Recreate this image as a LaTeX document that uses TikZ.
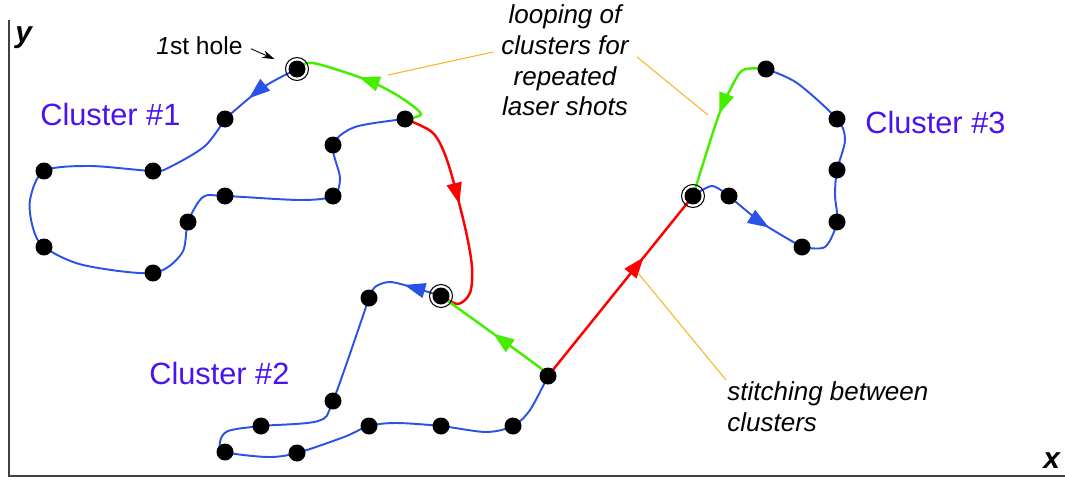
\documentclass[tikz,border=0pt]{standalone}
\usepackage{fontspec}
\setmainfont{Liberation Sans}
\usetikzlibrary{arrows.meta}
\usetikzlibrary{decorations.markings}
\usepackage{xcolor}

\definecolor{pathblue}{HTML}{2A52E8}
\definecolor{loopgreen}{HTML}{44EE00}
\definecolor{stitchred}{HTML}{FF0000}
\definecolor{labelviolet}{HTML}{4B12F0}
\definecolor{leaderorange}{HTML}{F7B423}
\definecolor{axisgray}{HTML}{404040}

\begin{document}
\begin{tikzpicture}[x=0.02cm,y=-0.02cm,
    trace/.style={line width=1.1pt,color=pathblue},
    loopback/.style={line width=1.4pt,color=loopgreen},
    stitch/.style={line width=1.4pt,color=stitchred},
    leader/.style={line width=0.6pt,color=leaderorange},
    flow/.style={postaction={decorate},decoration={markings,
        mark=at position #1 with {\arrow{Triangle[length=12pt,width=8.5pt]}}}},
    clabel/.style={color=labelviolet,font=\fontsize{17.5}{21}\selectfont,inner sep=0pt,anchor=base west},
    note/.style={font=\itshape\fontsize{14.8}{17.6}\selectfont,inner sep=0pt}]
    \useasboundingbox (0,0) rectangle (1065,480);
    % axes
    \coordinate (ytop) at (9,20);
    \coordinate (orig) at (9,476);
    \coordinate (xend) at (1065,476);
    \draw[axisgray,line width=1.1pt] (ytop) -- (orig) -- (xend);
    \node[font=\bfseries\itshape\fontsize{17}{20}\selectfont,inner sep=0pt,anchor=base west] (ylab) at (15,42) {y};
    \node[font=\bfseries\itshape\fontsize{17}{20}\selectfont,inner sep=0pt,anchor=base west] (xlab) at (1043,468) {x};
    % holes of cluster 1
    \coordinate (h1) at (297,69);
    \coordinate (a1) at (225,119);  \coordinate (a2) at (153,171);
    \coordinate (a3) at (44,171);   \coordinate (a4) at (44,247);
    \coordinate (a5) at (153,273);  \coordinate (a6) at (188,222);
    \coordinate (a7) at (225,196);  \coordinate (a8) at (333,196);
    \coordinate (a9) at (333,145);  \coordinate (a10) at (405,119);
    % holes of cluster 2
    \coordinate (h2) at (441,296);
    \coordinate (b1) at (369,298);  \coordinate (b2) at (333,401);
    \coordinate (b3) at (261,426);  \coordinate (b4) at (225,452);
    \coordinate (b5) at (297,453);  \coordinate (b6) at (369,426);
    \coordinate (b7) at (441,426);  \coordinate (b8) at (513,426);
    \coordinate (b9) at (548,376);
    % holes of cluster 3
    \coordinate (h3) at (693,196);
    \coordinate (c1) at (729,196);  \coordinate (c2) at (802,247);
    \coordinate (c3) at (837,222);  \coordinate (c4) at (837,170);
    \coordinate (c5) at (837,119);  \coordinate (c6) at (766,69);

    % cluster 1
    \draw[trace,flow=0.64] plot[smooth] coordinates {(h1) (262,88) (a1)};
    \draw[trace] plot[smooth] coordinates {(a1) (205,146) (170,167) (a2) (90,166) (a3) (30,200) (33,228) (a4)
        (83,265) (a5) (182,253) (a6) (203,197) (a7) (300,200) (a8) (340,178) (a9) (355,127) (a10)};
    \draw[loopback,flow=0.58] plot[smooth] coordinates {(a10) (421,114) (400,97) (367,80) (313,63) (h1)};
    \draw[stitch,flow=0.46] plot[smooth] coordinates {(a10) (433,133) (448,163) (465,227) (472,267) (470,293) (458,304) (h2)};
    % cluster 2
    \draw[trace,flow=0.47] plot[smooth] coordinates {(h2) (415,288) (390,282) (375,287) (b1)};
    \draw[trace] plot[smooth] coordinates {(b1) (b2) (318,421) (b3) (228,431) (220,442) (b4) (268,457) (b5)
        (344,437) (b6) (396,423) (b7) (486,432) (b8) (530,410) (b9)};
    \draw[loopback,flow=0.52] plot[smooth] coordinates {(b9) (543,370) (509,345) (h2)};
    \draw[stitch,flow=0.66] (b9) -- (h3);
    % cluster 3
    \draw[trace] plot[smooth] coordinates {(h3) (712,186) (c1)};
    \draw[trace,flow=0.57] plot[smooth] coordinates {(c1) (762,223) (c2)};
    \draw[trace] plot[smooth] coordinates {(c2) (825,247) (c3) (835,195) (c4) (845,140) (c5) (797,83) (c6)};
    \draw[loopback,flow=0.46] plot[smooth] coordinates {(c6) (743,70) (730,90) (717,120) (h3)};

    % holes
    \foreach \p in {h1,a1,a2,a3,a4,a5,a6,a7,a8,a9,a10,h2,b1,b2,b3,b4,b5,b6,b7,b8,b9,h3,c1,c2,c3,c4,c5,c6}
        \fill[black] (\p) circle [radius=8.5];
    \foreach \p in {h1,h2,h3}
        \draw[black,line width=0.6pt] (\p) circle [radius=11.5];

    % labels
    \node[clabel] (cl1) at (40,125) {Cluster \#1};
    \node[clabel] (cl2) at (149,384) {Cluster \#2};
    \node[clabel] (cl3) at (865,133) {Cluster \#3};
    \node[font=\fontsize{14}{17}\selectfont,inner sep=0pt,anchor=base west] (holenote) at (156,54) {\textit{1}st hole};
    \draw[-{Stealth[length=7pt,width=4.5pt]},line width=0.5pt,shorten <=5,shorten >=14] (holenote.east) -- (h1);
    \node[note,align=center,anchor=north] (loopnote) at (565,4) {looping of\\clusters for\\repeated\\laser shots};
    \node[note,align=left,anchor=north west] (stitchnote) at (727,381) {stitching between\\clusters};
    \coordinate (lg1) at (388,75);  \coordinate (lg1e) at (493,52);
    \coordinate (lg2) at (708,115); \coordinate (lg2e) at (637,57);
    \coordinate (st1) at (638,273); \coordinate (st1e) at (726,380);
    \draw[leader] (lg1) -- (lg1e);
    \draw[leader] (lg2) -- (lg2e);
    \draw[leader] (st1) -- (st1e);
\end{tikzpicture}
\end{document}
